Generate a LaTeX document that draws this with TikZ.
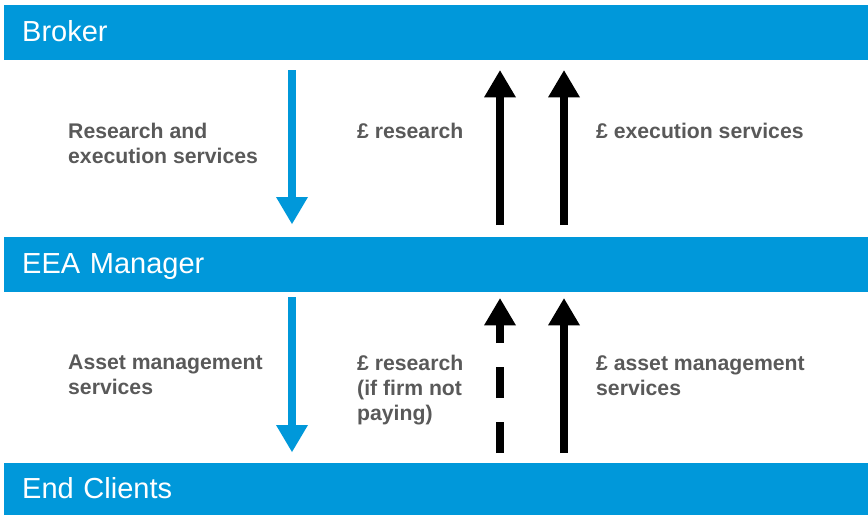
\documentclass[tikz,border=0pt]{standalone}
\usepackage{fontspec}
\setmainfont{Liberation Sans}
\usetikzlibrary{arrows.meta}
\usetikzlibrary{calc}

\definecolor{barblue}{RGB}{0,152,218}
\definecolor{textgrey}{RGB}{89,89,89}

\tikzset{
  bar/.style = {fill = barblue, text = white, anchor = north west,
    minimum height = #1, inner xsep = 18pt, inner ysep = 0pt,
    text width = 828pt, text height = 25pt, text depth = 7pt,
    align = left, font = \fontsize{29}{35}\selectfont},
  itemtext/.style = {anchor = north west, inner sep = 0pt, align = left,
    text = textgrey, font = \fontsize{21.2}{25}\selectfont\bfseries},
  fattip/.style = {-{Triangle[length = 27pt, width = 32pt, line width = 0pt]}},
  serviceflow/.style = {fattip, barblue, line width = 7.5pt},
  moneyflow/.style = {fattip, black, line width = 8pt}
}

\begin{document}
\begin{tikzpicture}[x = 1pt, y = -1pt]
  \useasboundingbox (0, 0) rectangle (868, 515);

  \node[bar = 55pt] (broker) at (4, 5) {Broker};
  \node[bar = 55pt] (eea) at (4, 237) {EEA Manager};
  \node[bar = 52pt] (clients) at (4, 463) {End Clients};

  \coordinate (svc) at (292, 0);
  \coordinate (res) at (500, 0);
  \coordinate (exe) at (564, 0);

  % services go down
  \draw[serviceflow, shorten <= 10pt, shorten >= 13pt]
    (broker.south -| svc) -- (eea.north -| svc);
  \draw[serviceflow, shorten <= 5pt, shorten >= 11pt]
    (eea.south -| svc) -- (clients.north -| svc);

  % payments go up
  \foreach \col in {res, exe}{
    \draw[moneyflow, shorten <= 12pt, shorten >= 10pt]
      (eea.north -| \col) -- (broker.south -| \col);
  }
  \draw[moneyflow, dash pattern = on 31pt off 24pt,
    shorten <= 10pt, shorten >= 6pt]
    (clients.north -| res) -- (eea.south -| res);
  \draw[moneyflow, shorten <= 10pt, shorten >= 6pt]
    (clients.north -| exe) -- (eea.south -| exe);

  \node[itemtext] (svc1) at (68, 123) {Research and\\execution services};
  \node[itemtext] (pay1) at (357, 123) {£ research};
  \node[itemtext] (pay2) at (596, 123) {£ execution services};

  \node[itemtext] (svc2) at (68, 355) {Asset management\\services};
  \node[itemtext] (pay3) at (357, 355) {£ research\\(if firm not\\paying)};
  \node[itemtext] (pay4) at (596, 355) {£ asset management\\services};
\end{tikzpicture}
\end{document}
